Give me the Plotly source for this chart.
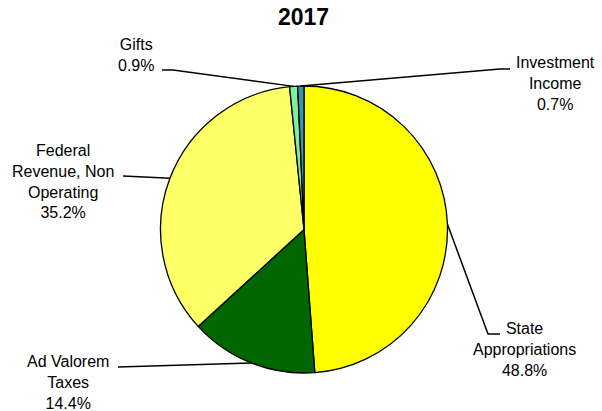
import math
import plotly.graph_objects as go

W, H = 602, 411

# ---- data ----
categories = ["State Appropriations", "Ad Valorem Taxes", "Federal Revenue, Non Operating", "Gifts", "Investment Income"]
values = [48.8, 14.4, 35.2, 0.9, 0.7]
label_texts = ["State<br>Appropriations<br>48.8%", "Ad Valorem<br>Taxes<br>14.4%",
               "Federal<br>Revenue, Non<br>Operating<br>35.2%", "Gifts<br>0.9%",
               "Investment<br>Income<br>0.7%"]
colors = ["#FFFF00", "#006600", "#FFFF66", "#80F09C", "#3797A8"]
title_text = "2017"

# ---- layout (window pixels) ----
cx, cy, r = 304.0, 229.5, 143.5
label_pos = [(524, 349), (68, 382), (63, 181), (136, 55), (555, 84)]
elbows = [[(488, 334), (500, 334)],
          [(118, 367)],
          [(123, 176)],
          [(173, 70), (162, 70)],
          [(500, 69), (510, 69)]]

def px(x):
    return x / W

def py(y):
    return 1 - y / H

fig = go.Figure(go.Pie(
    labels=categories, values=values, sort=False, direction="clockwise", rotation=0,
    marker=dict(colors=colors, line=dict(color="#000000", width=1.3)),
    textinfo="none", hoverinfo="label+percent", showlegend=False,
    domain=dict(x=[px(cx - r), px(cx + r)], y=[py(cy + r), py(cy - r)]),
))

total = sum(values)
cum = 0.0
shapes = []
annotations = []
for i, v in enumerate(values):
    mid = (cum + v / 2) / total * 2 * math.pi
    cum += v
    sx = cx + r * math.sin(mid)
    sy = cy - r * math.cos(mid)
    pts = [(sx, sy)] + elbows[i]
    path = "M " + " L ".join(f"{px(x):.5f},{py(y):.5f}" for x, y in pts)
    shapes.append(dict(type="path", xref="paper", yref="paper", path=path,
                       line=dict(color="#000000", width=1.5)))
    lx, ly = label_pos[i]
    annotations.append(dict(x=px(lx), y=py(ly), xref="paper", yref="paper",
                            text=label_texts[i], showarrow=False,
                            xanchor="center", yanchor="middle", align="center",
                            font=dict(family="Liberation Sans, Arial, sans-serif", size=16, color="#000000")))

annotations.append(dict(x=px(303.5), y=py(17), xref="paper", yref="paper",
                        text=f"<b>{title_text}</b>", showarrow=False,
                        xanchor="center", yanchor="middle",
                        font=dict(family="Liberation Sans, Arial, sans-serif", size=23, color="#000000")))

fig.update_layout(width=W, height=H, margin=dict(l=0, r=0, t=0, b=0),
                  paper_bgcolor="#FFFFFF", plot_bgcolor="#FFFFFF",
                  shapes=shapes, annotations=annotations)

fig.write_html("out.html", config={"displayModeBar": False},
               post_script="document.body.style.margin='0';document.body.style.overflow='hidden';")
